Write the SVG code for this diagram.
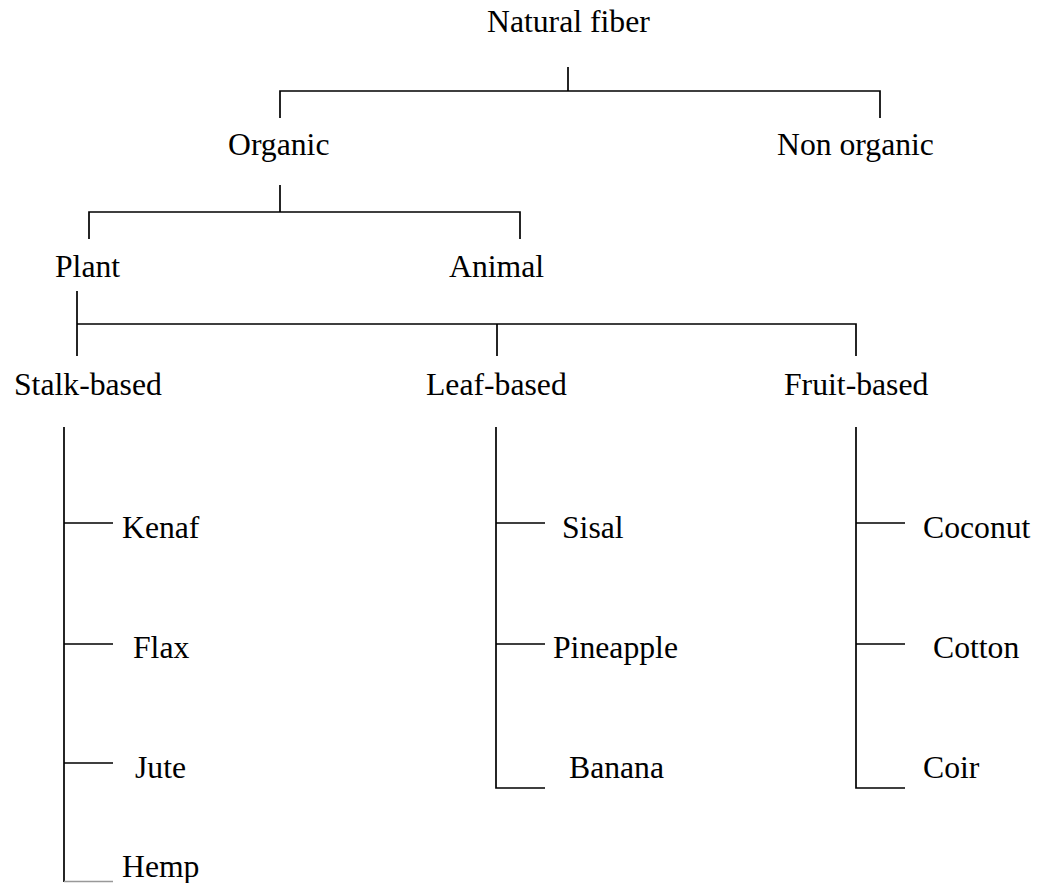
<svg xmlns="http://www.w3.org/2000/svg" width="1041" height="883" viewBox="0 0 1041 883">
<style>
.t{font-family:"Liberation Serif","Times New Roman",serif;font-size:31.7px;fill:#000}
.c{stroke:#000;stroke-width:1.7;fill:none;stroke-linecap:butt}
.g{stroke:#999;stroke-width:1.3;fill:none}
</style>
<rect width="1041" height="883" fill="#fff"/>
<g id="connectors">
<path class="c" d="M568,67V91M280,118V91H880V118"/>
<path class="c" d="M280,185V212M89,239V212H520V239"/>
<path class="c" d="M77,291V356M77,324H856V356M497,324V356"/>
<path class="c" d="M64,427V882M64,523H113M64,644H113M64,763H113"/>
<path class="g" d="M64,881.5H113"/>
<path class="c" d="M496,427V788H545M496,523H545M496,644H545"/>
<path class="c" d="M856,427V788H905M856,523H905M856,644H905"/>
</g>
<g id="n-natural"><text class="t" x="487" y="32">Natural fiber</text></g>
<g id="n-organic"><text class="t" x="228" y="155">Organic</text></g>
<g id="n-nonorganic"><text class="t" x="777" y="155">Non organic</text></g>
<g id="n-plant"><text class="t" x="55" y="277">Plant</text></g>
<g id="n-animal"><text class="t" x="449" y="277">Animal</text></g>
<g id="n-stalk"><text class="t" x="14" y="395">Stalk-based</text></g>
<g id="n-leaf"><text class="t" x="426" y="395">Leaf-based</text></g>
<g id="n-fruit"><text class="t" x="784" y="395">Fruit-based</text></g>
<g id="n-kenaf"><text class="t" x="122" y="538">Kenaf</text></g>
<g id="n-flax"><text class="t" x="133" y="658">Flax</text></g>
<g id="n-jute"><text class="t" x="135" y="778">Jute</text></g>
<g id="n-hemp"><text class="t" x="122" y="877">Hemp</text></g>
<g id="n-sisal"><text class="t" x="562" y="538">Sisal</text></g>
<g id="n-pineapple"><text class="t" x="553" y="658">Pineapple</text></g>
<g id="n-banana"><text class="t" x="569" y="778">Banana</text></g>
<g id="n-coconut"><text class="t" x="923" y="538">Coconut</text></g>
<g id="n-cotton"><text class="t" x="933" y="658">Cotton</text></g>
<g id="n-coir"><text class="t" x="923" y="778">Coir</text></g>
</svg>
